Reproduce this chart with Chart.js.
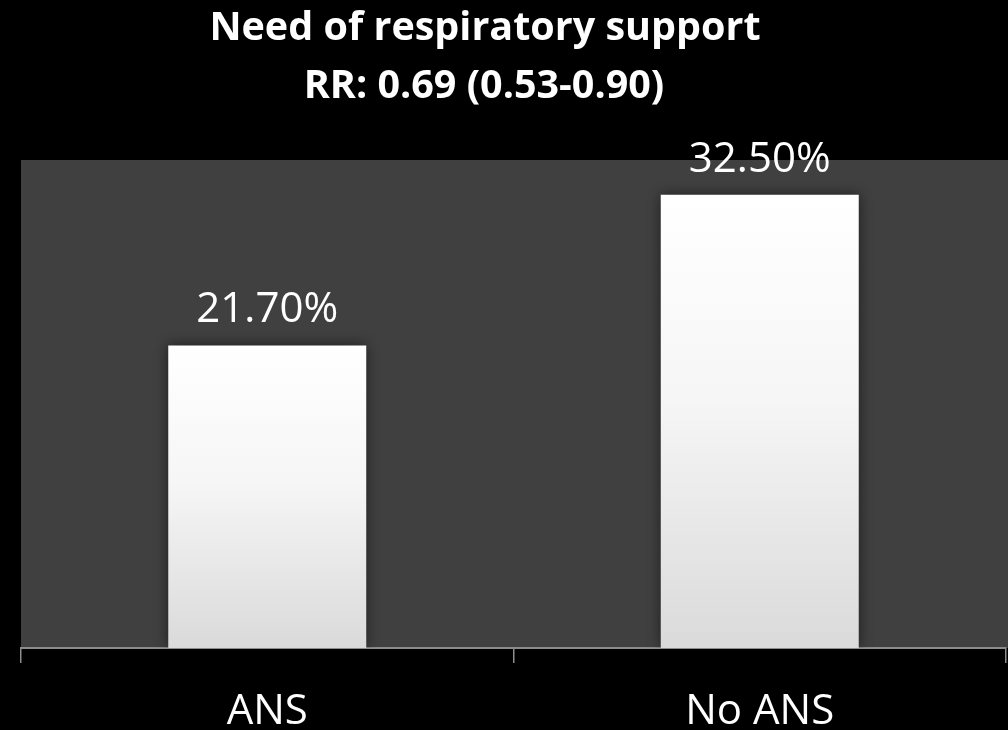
<!DOCTYPE html>
<html>
<head>
<meta charset="utf-8">
<script src="https://cdn.jsdelivr.net/npm/chart.js@4.4.1/dist/chart.umd.min.js"></script>
<style>
  html, body { margin: 0; padding: 0; background: #000; }
  #wrap { width: 1008px; height: 730px; position: relative; }
</style>
</head>
<body>
<div id="wrap"><canvas id="myChart"></canvas></div>
<script>
'use strict'
const categories = ['ANS', 'No ANS'];
const values = [21.7, 32.5];
const titleLines = ['Need of respiratory support', 'RR: 0.69 (0.53-0.90)'];
const yMax = 35;

const fontName = '"Open Sans", "Liberation Sans", sans-serif';

// plot panel + black page behind it
const panelPlugin = {
  id: 'panel',
  beforeDraw(chart) {
    const ctx = chart.ctx;
    const a = chart.chartArea;
    ctx.save();
    ctx.fillStyle = '#000000';
    ctx.fillRect(0, 0, chart.width, chart.height);
    ctx.fillStyle = '#404040';
    ctx.fillRect(a.left, a.top, chart.width - a.left, a.bottom - a.top);
    ctx.restore();
  },
  beforeDatasetsDraw(chart) {
    const ctx = chart.ctx;
    ctx.save();
    ctx.shadowColor = 'rgba(0,0,0,0.55)';
    ctx.shadowBlur = 14;
  },
  afterDatasetsDraw(chart) {
    const ctx = chart.ctx;
    ctx.restore();
    // value labels over the bars
    ctx.save();
    ctx.fillStyle = '#ffffff';
    ctx.font = '42px ' + fontName;
    ctx.textAlign = 'center';
    ctx.textBaseline = 'alphabetic';
    chart.getDatasetMeta(0).data.forEach(function (bar, i) {
      ctx.fillText(values[i].toFixed(2) + '%', bar.x, bar.y - 23);
    });
    ctx.restore();
  },
  afterDraw(chart) {
    const ctx = chart.ctx;
    ctx.save();
    ctx.fillStyle = '#ffffff';
    ctx.font = 'bold 39.5px ' + fontName;
    ctx.textAlign = 'center';
    ctx.textBaseline = 'alphabetic';
    ctx.fillText(titleLines[0], 485, 40);
    ctx.fillText(titleLines[1], 484, 98);
    ctx.restore();
  }
};

function barGradient(context) {
  const chart = context.chart;
  if (!chart.chartArea || context.parsed === undefined) return '#f0f0f0';
  const y = chart.scales.y;
  const top = y.getPixelForValue(context.parsed.y);
  const bottom = y.getPixelForValue(0);
  const g = chart.ctx.createLinearGradient(0, top, 0, bottom);
  g.addColorStop(0, '#ffffff');
  g.addColorStop(0.45, '#f6f6f6');
  g.addColorStop(1, '#dadada');
  return g;
}

const ctx = document.getElementById('myChart').getContext('2d');
const myChart = new Chart(ctx, {
  type: 'bar',
  data: {
    labels: categories,
    datasets: [{
      data: values,
      backgroundColor: barGradient,
      borderWidth: 0,
      categoryPercentage: 0.402,
      barPercentage: 1
    }]
  },
  options: {
    responsive: true,
    maintainAspectRatio: false,
    animation: false,
    layout: { padding: { left: 21, right: 2, top: 160, bottom: 0 } },
    plugins: {
      legend: { display: false },
      title: { display: false },
      tooltip: { enabled: false }
    },
    scales: {
      x: {
        afterFit(scale) { scale.height = 82; },
        border: { display: true, color: '#8c8c8c', width: 2 },
        grid: {
          display: true,
          drawOnChartArea: false,
          drawTicks: true,
          tickLength: 15,
          color: '#8c8c8c',
          lineWidth: 1.5,
          offset: true
        },
        ticks: {
          color: '#ffffff',
          font: { family: fontName, size: 42 },
          padding: 24
        }
      },
      y: {
        display: false,
        min: 0,
        max: yMax
      }
    }
  },
  plugins: [panelPlugin]
});
</script>
</body>
</html>
